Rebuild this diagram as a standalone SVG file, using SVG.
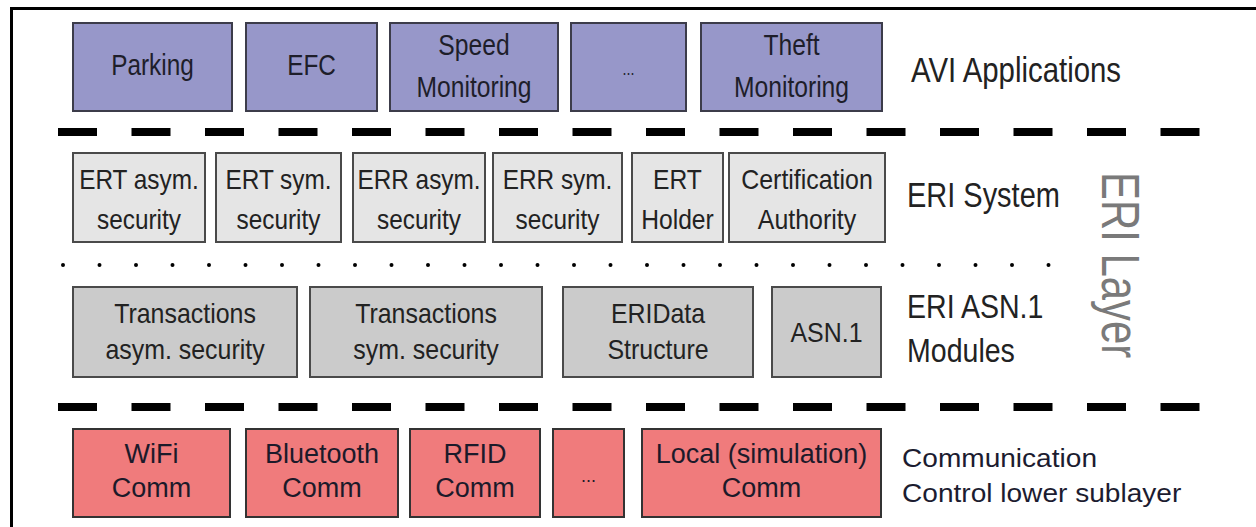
<svg xmlns="http://www.w3.org/2000/svg" width="1256" height="527" viewBox="0 0 1256 527">
<style>
  text { font-family: "Liberation Sans", Arial, sans-serif; text-anchor: middle; }
  .app rect { fill: #9797c9; stroke: #3c3c4a; stroke-width: 2; }
  .sys rect { fill: #e5e5e5; stroke: #4a4a4a; stroke-width: 2; }
  .mod rect { fill: #cbcbcb; stroke: #4a4a4a; stroke-width: 2; }
  .com rect { fill: #f07b7c; stroke: #333333; stroke-width: 2; }
  .app text { font-size: 29px; fill: #1e1e2a; }
  .sys text { font-size: 28px; fill: #222; }
  .mod text { font-size: 28px; fill: #222; }
  .com text { font-size: 27px; fill: #1c1a2a; }
  .lbl { text-anchor: start; font-size: 36px; fill: #222; }
  .lbl2 { text-anchor: start; font-size: 34px; fill: #222; }
  .lbl3 { text-anchor: start; font-size: 26px; fill: #1c1c30; }
  .dash { stroke: #000; stroke-width: 8; stroke-dasharray: 39 34.5; fill: none; }
  .dots { stroke: #000; stroke-width: 4; stroke-linecap: round; stroke-dasharray: 0 36.5; fill: none; }
</style>

<g id="frame" fill="none" stroke="#000" stroke-width="3">
  <path d="M11.5,527 V8.5 H1256"/>
</g>

<g id="separators">
  <line class="dash" x1="58" y1="132" x2="1203" y2="132"/>
  <line class="dots" x1="63" y1="265" x2="1050" y2="265"/>
  <line class="dash" x1="58" y1="407" x2="1203" y2="407"/>
</g>

<g id="connectors"></g>

<!-- AVI Applications -->
<g id="parking" class="app">
  <rect x="73" y="23" width="159" height="88"/>
  <text transform="translate(152.5,75) scale(0.84,1)">Parking</text>
</g>
<g id="efc" class="app">
  <rect x="246" y="23" width="131" height="88"/>
  <text transform="translate(311.5,75) scale(0.84,1)">EFC</text>
</g>
<g id="speed-monitoring" class="app">
  <rect x="390" y="23" width="168" height="88"/>
  <text transform="translate(474,55) scale(0.85,1)">Speed</text>
  <text transform="translate(474,97) scale(0.85,1)">Monitoring</text>
</g>
<g id="app-more" class="app">
  <rect x="571" y="23" width="115" height="88"/>
  <text transform="translate(628.5,75) scale(0.8,1)" style="font-size:18px">...</text>
</g>
<g id="theft-monitoring" class="app">
  <rect x="701" y="23" width="181" height="88"/>
  <text transform="translate(791.5,55) scale(0.85,1)">Theft</text>
  <text transform="translate(791.5,97) scale(0.85,1)">Monitoring</text>
</g>

<!-- ERI System -->
<g id="ert-asym" class="sys">
  <rect x="73" y="153" width="132" height="89"/>
  <text transform="translate(139,189) scale(0.87,1)">ERT asym.</text>
  <text transform="translate(139,229) scale(0.87,1)">security</text>
</g>
<g id="ert-sym" class="sys">
  <rect x="216" y="153" width="125" height="89"/>
  <text transform="translate(278.5,189) scale(0.87,1)">ERT sym.</text>
  <text transform="translate(278.5,229) scale(0.87,1)">security</text>
</g>
<g id="err-asym" class="sys">
  <rect x="353" y="153" width="132" height="89"/>
  <text transform="translate(419,189) scale(0.87,1)">ERR asym.</text>
  <text transform="translate(419,229) scale(0.87,1)">security</text>
</g>
<g id="err-sym" class="sys">
  <rect x="493" y="153" width="129" height="89"/>
  <text transform="translate(557.5,189) scale(0.87,1)">ERR sym.</text>
  <text transform="translate(557.5,229) scale(0.87,1)">security</text>
</g>
<g id="ert-holder" class="sys">
  <rect x="632" y="153" width="91" height="89"/>
  <text transform="translate(677.5,189) scale(0.88,1)">ERT</text>
  <text transform="translate(677.5,229) scale(0.88,1)">Holder</text>
</g>
<g id="certification-authority" class="sys">
  <rect x="729" y="153" width="156" height="89"/>
  <text transform="translate(807,189) scale(0.89,1)">Certification</text>
  <text transform="translate(807,229) scale(0.89,1)">Authority</text>
</g>

<!-- ERI ASN.1 Modules -->
<g id="transactions-asym" class="mod">
  <rect x="73" y="287" width="224" height="90"/>
  <text transform="translate(185,323) scale(0.89,1)">Transactions</text>
  <text transform="translate(185,359) scale(0.89,1)">asym. security</text>
</g>
<g id="transactions-sym" class="mod">
  <rect x="310" y="287" width="232" height="90"/>
  <text transform="translate(426,323) scale(0.89,1)">Transactions</text>
  <text transform="translate(426,359) scale(0.89,1)">sym. security</text>
</g>
<g id="eridata-structure" class="mod">
  <rect x="563" y="287" width="190" height="90"/>
  <text transform="translate(658,323) scale(0.89,1)">ERIData</text>
  <text transform="translate(658,359) scale(0.89,1)">Structure</text>
</g>
<g id="asn1" class="mod">
  <rect x="772" y="287" width="109" height="90"/>
  <text transform="translate(826.5,342) scale(0.89,1)">ASN.1</text>
</g>

<!-- Communication -->
<g id="wifi-comm" class="com">
  <rect x="73" y="429" width="157" height="88"/>
  <text transform="translate(151.5,463)">WiFi</text>
  <text transform="translate(151.5,497)">Comm</text>
</g>
<g id="bluetooth-comm" class="com">
  <rect x="246" y="429" width="152" height="88"/>
  <text transform="translate(322,463)">Bluetooth</text>
  <text transform="translate(322,497)">Comm</text>
</g>
<g id="rfid-comm" class="com">
  <rect x="410" y="429" width="130" height="88"/>
  <text transform="translate(475,463)">RFID</text>
  <text transform="translate(475,497)">Comm</text>
</g>
<g id="comm-more" class="com">
  <rect x="553" y="429" width="71" height="88"/>
  <text transform="translate(588.5,482)" style="font-size:18px">...</text>
</g>
<g id="local-comm" class="com">
  <rect x="642" y="429" width="239" height="88"/>
  <text transform="translate(761.5,463)">Local (simulation)</text>
  <text transform="translate(761.5,497)">Comm</text>
</g>

<!-- Layer labels -->
<g id="labels">
  <text class="lbl" transform="translate(911,82) scale(0.816,1)">AVI Applications</text>
  <text class="lbl" transform="translate(907,207) scale(0.805,1)">ERI System</text>
  <text class="lbl2" transform="translate(907,318) scale(0.84,1)">ERI ASN.1</text>
  <text class="lbl2" transform="translate(907,362) scale(0.84,1)">Modules</text>
  <text class="lbl3" transform="translate(902,467) scale(1.08,1)">Communication</text>
  <text class="lbl3" transform="translate(902,502) scale(1.08,1)">Control lower sublayer</text>
  <text transform="translate(1102,172) rotate(90) scale(0.79,1)" style="text-anchor:start;font-size:53px;fill:#7a7a7a">ERI Layer</text>
</g>
</svg>
